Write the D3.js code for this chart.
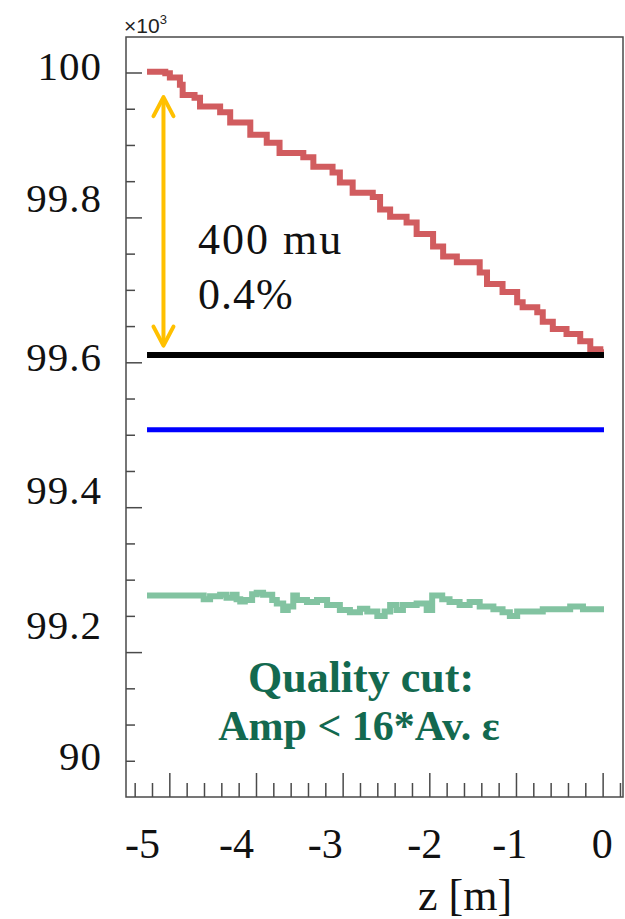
<!DOCTYPE html>
<html>
<head>
<meta charset="utf-8">
<script src="https://cdn.jsdelivr.net/npm/d3@7"></script>
<style>
  body { margin: 0; background: #fff; }
  svg { display: block; }
</style>
</head>
<body>
<div id="chart"></div>
<script>
// values in units of 10^3 mu, z in metres
var redZ = [-5.00, -4.80, -4.75, -4.64, -4.61, -4.48, -4.42, -4.20, -4.09, -3.87, -3.69, -3.55, -3.29, -3.18, -2.97, -2.89, -2.75, -2.53, -2.45, -2.34, -2.16, -2.05, -1.87, -1.76, -1.61, -1.36, -1.28, -1.11, -0.95, -0.89, -0.73, -0.67, -0.56, -0.41, -0.26, -0.15, -0.04, 0.00];
var redV = [100.001, 99.999, 99.993, 99.983, 99.969, 99.965, 99.953, 99.945, 99.931, 99.914, 99.903, 99.889, 99.883, 99.870, 99.862, 99.848, 99.834, 99.828, 99.811, 99.801, 99.793, 99.777, 99.760, 99.746, 99.738, 99.724, 99.708, 99.697, 99.683, 99.676, 99.669, 99.656, 99.646, 99.639, 99.629, 99.618, 99.614, 99.614];

var greenZ = [-5.00, -4.38, -4.31, -4.20, -4.13, -4.06, -4.02, -3.98, -3.93, -3.85, -3.80, -3.73, -3.63, -3.58, -3.51, -3.46, -3.40, -3.36, -3.25, -3.14, -3.03, -2.89, -2.78, -2.67, -2.59, -2.53, -2.48, -2.40, -2.34, -2.27, -2.20, -2.05, -1.94, -1.88, -1.77, -1.69, -1.58, -1.47, -1.36, -1.21, -1.11, -1.03, -0.95, -0.67, -0.37, -0.23, 0.00];
var greenV = [99.278, 99.273, 99.277, 99.279, 99.275, 99.279, 99.273, 99.270, 99.272, 99.280, 99.282, 99.279, 99.272, 99.267, 99.258, 99.263, 99.278, 99.272, 99.269, 99.272, 99.265, 99.258, 99.255, 99.260, 99.256, 99.256, 99.250, 99.256, 99.265, 99.258, 99.265, 99.267, 99.258, 99.278, 99.273, 99.269, 99.265, 99.269, 99.263, 99.259, 99.255, 99.250, 99.256, 99.259, 99.263, 99.259, 99.259];

var blackLevel = 99.61;
var blueLevel = 99.507;
var lineZ = [-5, 0];

var yTickMajor = [99.2, 99.4, 99.6, 99.8, 100.0];
var yLabels = ["100", "99.8", "99.6", "99.4", "99.2", "90"];
var yLabelAt = [99.99, 99.807, 99.588, 99.405, 99.218, 99.037];
var xLabels = ["-5", "-4", "-3", "-2", "-1", "0"];
var xLabelAt = [-5.05, -4.02, -3.05, -1.96, -1.03, -0.02];

var w = 625, h = 919;
var fLeft = 126, fRight = 623, fTop = 37, fBottom = 797;

var svg = d3.select("#chart").append("svg")
    .attr("width", w)
    .attr("height", h);

var x = d3.scaleLinear().domain([-5.23, 0.208]).range([fLeft, fRight]);
var y = d3.scaleLinear().domain([99.0, 100.049]).range([fBottom, fTop]);
// frame tick scale of the original plot (ticks do not sit on the pasted labels)
var xt = d3.scaleLinear().domain([-0.5, 5.235]).range([fLeft, fRight]);

// frame
svg.append("rect")
   .attr("x", fLeft).attr("y", fTop)
   .attr("width", fRight - fLeft).attr("height", fBottom - fTop)
   .attr("fill", "none")
   .attr("stroke", "#4a4a4a")
   .attr("stroke-width", 1.5);

// y ticks
var yMinor = d3.range(99.05, 100.04, 0.05).filter(function(d) {
  return yTickMajor.every(function(m) { return Math.abs(m - d) > 0.01; });
});
var yAxisMinor = d3.axisRight(y).tickValues(yMinor).tickSize(9).tickFormat("");
var yAxisMajor = d3.axisRight(y).tickValues(yTickMajor).tickSize(16).tickFormat("");
[yAxisMinor, yAxisMajor].forEach(function(ax) {
  var g = svg.append("g").attr("transform", "translate(" + fLeft + ",0)").call(ax);
  g.select(".domain").remove();
  g.selectAll("line").attr("stroke", "#4a4a4a").attr("stroke-width", 1.5);
});

// x ticks
var xMajor = d3.range(0, 6, 1);
var xMinor = d3.range(-0.4, 5.25, 0.2).filter(function(d) {
  return Math.abs(d - Math.round(d)) > 0.05;
});
var xAxisMinor = d3.axisTop(xt).tickValues(xMinor).tickSize(14).tickFormat("");
var xAxisMajor = d3.axisTop(xt).tickValues(xMajor).tickSize(24).tickFormat("");
[xAxisMinor, xAxisMajor].forEach(function(ax) {
  var g = svg.append("g").attr("transform", "translate(0," + fBottom + ")").call(ax);
  g.select(".domain").remove();
  g.selectAll("line").attr("stroke", "#4a4a4a").attr("stroke-width", 1.5);
});

// tick labels
svg.selectAll(".ylab")
   .data(yLabels)
   .enter()
   .append("text")
   .attr("class", "ylab")
   .text(function(d) { return d; })
   .attr("x", 102)
   .attr("y", function(d, i) { return y(yLabelAt[i]); })
   .attr("text-anchor", "end")
   .attr("font-family", "Liberation Serif")
   .attr("font-size", "41px")
   .attr("letter-spacing", "1px")
   .attr("fill", "#111");

svg.selectAll(".xlab")
   .data(xLabels)
   .enter()
   .append("text")
   .attr("class", "xlab")
   .text(function(d) { return d; })
   .attr("x", function(d, i) { return x(xLabelAt[i]); })
   .attr("y", 858)
   .attr("text-anchor", "middle")
   .attr("font-family", "Liberation Serif")
   .attr("font-size", "42px")
   .attr("fill", "#111");

svg.append("text")
   .text("z [m]")
   .attr("x", 465).attr("y", 910)
   .attr("text-anchor", "middle")
   .attr("font-family", "Liberation Serif")
   .attr("font-size", "44px")
   .attr("fill", "#111");

var mult = svg.append("text")
   .attr("x", 124).attr("y", 33)
   .attr("font-family", "Liberation Sans")
   .attr("font-size", "21px")
   .attr("fill", "#222");
mult.append("tspan").text("\u00d710");
mult.append("tspan").text("3").attr("font-size", "13px").attr("dy", -9);

// series
var step = d3.line()
    .x(function(d) { return x(d[0]); })
    .y(function(d) { return y(d[1]); })
    .curve(d3.curveStepAfter);

svg.append("path")
   .datum(d3.zip(greenZ, greenV))
   .attr("d", step)
   .attr("fill", "none")
   .attr("stroke", "#82c3a1")
   .attr("stroke-width", 6);

svg.append("path")
   .datum(lineZ.map(function(z) { return [z, blueLevel]; }))
   .attr("d", step)
   .attr("fill", "none")
   .attr("stroke", "#0000ff")
   .attr("stroke-width", 5);

svg.append("path")
   .datum(d3.zip(redZ, redV))
   .attr("d", step)
   .attr("fill", "none")
   .attr("stroke", "#d15c5f")
   .attr("stroke-width", 6);

svg.append("path")
   .datum(lineZ.map(function(z) { return [z, blackLevel]; }))
   .attr("d", step)
   .attr("fill", "none")
   .attr("stroke", "#000")
   .attr("stroke-width", 6);

// double arrow for the 400 mu drop
var ax0 = x(-4.82), ay0 = y(99.966), ay1 = y(99.623);
var arrow = svg.append("g")
   .attr("fill", "none")
   .attr("stroke", "#ffc000")
   .attr("stroke-width", 4)
   .attr("stroke-linecap", "round")
   .attr("stroke-linejoin", "round");
arrow.append("line").attr("x1", ax0).attr("x2", ax0).attr("y1", ay0 + 2).attr("y2", ay1 - 2);
arrow.append("path").attr("d", "M" + (ax0 - 10) + "," + (ay0 + 19) + "L" + ax0 + "," + ay0 + "L" + (ax0 + 10) + "," + (ay0 + 19));
arrow.append("path").attr("d", "M" + (ax0 - 10) + "," + (ay1 - 19) + "L" + ax0 + "," + ay1 + "L" + (ax0 + 10) + "," + (ay1 - 19));

// annotations
svg.append("text")
   .text("400 mu")
   .attr("x", 198).attr("y", 254)
   .attr("font-family", "Liberation Serif")
   .attr("font-size", "44px")
   .attr("letter-spacing", "2px")
   .attr("fill", "#111");
svg.append("text")
   .text("0.4%")
   .attr("x", 198).attr("y", 309)
   .attr("font-family", "Liberation Serif")
   .attr("font-size", "44px")
   .attr("letter-spacing", "1px")
   .attr("fill", "#111");

svg.append("text")
   .text("Quality cut:")
   .attr("x", 361).attr("y", 692)
   .attr("text-anchor", "middle")
   .attr("font-family", "Liberation Serif")
   .attr("font-weight", "bold")
   .attr("font-size", "44px")
   .attr("fill", "#13694f");
svg.append("text")
   .text("Amp < 16*Av. \u03b5")
   .attr("x", 359).attr("y", 740)
   .attr("text-anchor", "middle")
   .attr("font-family", "Liberation Serif")
   .attr("font-weight", "bold")
   .attr("font-size", "42px")
   .attr("fill", "#13694f");
</script>
</body>
</html>
